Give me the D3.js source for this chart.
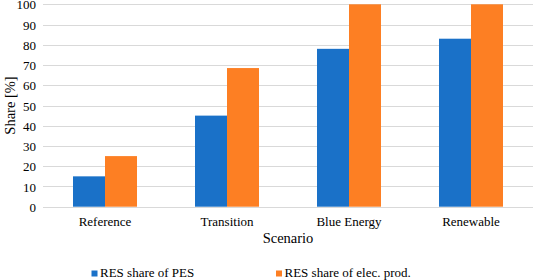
<!DOCTYPE html>
<html><head><meta charset="utf-8">
<script src="https://cdn.jsdelivr.net/npm/d3@7"></script>
<style>body{margin:0;background:#fff}svg{display:block}text{font-family:"Liberation Serif","Times New Roman",serif;fill:#000}</style>
</head><body><svg id="c" width="533" height="280"></svg>
<script>
const categories = ["Reference", "Transition", "Blue Energy", "Renewable"];
const seriesNames = ["RES share of PES", "RES share of elec. prod."];
const pesShare = [15, 45, 78, 83];
const elecShare = [25, 68.5, 100, 100];
const yTicks = [0, 10, 20, 30, 40, 50, 60, 70, 80, 90, 100];
const colors = ["#1a71c8", "#fd7f23"];

(function () {
const svg = d3.select("#c");
const mLeft = 44, mRight = 532, mTop = 4.3, mBottom = 206.7;
const x = d3.scaleBand().domain(categories).range([mLeft, mRight]).paddingInner(0).paddingOuter(0);
const sub = d3.scaleBand().domain(seriesNames).range([29, 93]);
const y = d3.scaleLinear().domain([0, 100]).range([mBottom, mTop]);

svg.append("g").selectAll("line").data(yTicks).join("line")
  .attr("x1", mLeft - 1).attr("x2", 533)
  .attr("y1", d => Math.round(y(d)) + 0.5).attr("y2", d => Math.round(y(d)) + 0.5)
  .attr("stroke", "#d9d9d9").attr("stroke-width", 1);

const yAxis = d3.axisLeft(y).tickValues(yTicks).tickSize(0).tickPadding(0);
const ya = svg.append("g").attr("transform", `translate(36,0)`).call(yAxis);
ya.select(".domain").remove();
ya.selectAll("text").attr("font-size", 13).attr("font-family", "Liberation Serif").attr("fill", "#000").attr("dy", "0.35em");

const data = categories.map((c, i) => ({c, vals: [pesShare[i], elecShare[i]]}));
const g = svg.append("g").selectAll("g").data(data).join("g")
  .attr("transform", d => `translate(${x(d.c)},0)`);
g.selectAll("rect").data(d => d.vals.map((v, j) => ({v, s: seriesNames[j], j}))).join("rect")
  .attr("x", d => sub(d.s)).attr("width", sub.bandwidth())
  .attr("y", d => y(d.v)).attr("height", d => y(0) - y(d.v))
  .attr("fill", d => colors[d.j]);

const xAxis = d3.axisBottom(x).tickSize(0).tickPadding(0);
const xa = svg.append("g").attr("transform", `translate(0,${mBottom})`).call(xAxis);
xa.select(".domain").remove();
xa.selectAll("text").attr("font-size", 13).attr("font-family", "Liberation Serif").attr("fill", "#000").attr("dy", null).attr("y", 19);

svg.append("text").attr("x", (mLeft + mRight) / 2).attr("y", 243).attr("text-anchor", "middle")
  .attr("font-size", 14.5).text("Scenario");
svg.append("text").attr("transform", `translate(15,${(mTop + mBottom) / 2}) rotate(-90)`)
  .attr("text-anchor", "middle").attr("font-size", 14.5).text("Share [%]");

const legX = [91.5, 276];
const lg = svg.append("g").selectAll("g").data(seriesNames).join("g")
  .attr("transform", (d, i) => `translate(${legX[i]},270.5)`);
lg.append("rect").attr("width", 6).attr("height", 6).attr("fill", (d, i) => colors[i]);
lg.append("text").attr("x", 8.5).attr("y", 6.5).attr("font-size", 13).text(d => d);
})();
</script></body></html>
